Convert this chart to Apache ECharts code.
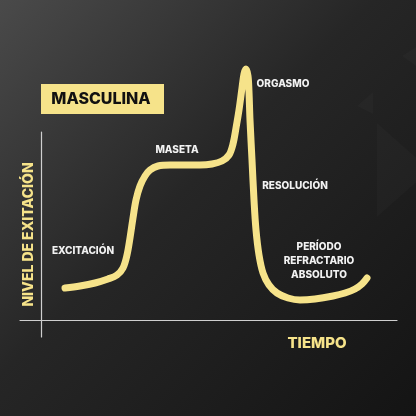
<!DOCTYPE html>
<html>
<head>
<meta charset="utf-8">
<script src="https://cdn.jsdelivr.net/npm/echarts@6/dist/echarts.min.js"></script>
<style>
  html, body { margin: 0; padding: 0; }
  #chart { width: 416px; height: 416px; }
</style>
</head>
<body>
<div id="chart"></div>
<script>
// time (arbitrary units) and arousal level
const tiempo = [24, 39, 54, 67, 76, 82, 86, 89, 92, 95, 99, 104, 109, 117, 129, 144, 159, 171, 181, 188, 192, 195, 198, 201, 203, 205, 207, 208, 209, 211, 213, 215, 218, 222, 228, 236, 247, 259, 274, 292, 304, 314, 321, 326];
const excitacion = [32, 34, 37, 41, 45, 52, 65, 82, 102, 120, 134, 144, 150, 154, 155, 155, 155, 156, 159, 165, 176, 192, 210, 232, 246, 251, 244, 228, 200, 160, 120, 90, 65, 47, 35, 27, 22, 20, 21, 24, 27, 31, 36, 42];

const titulo = 'MASCULINA';
const ejeY = 'NIVEL DE EXITACIÓN';
const ejeX = 'TIEMPO';

const YELLOW = '#f6e38a';
const FONT = '"Inter", "DejaVu Sans", sans-serif';

const chart = echarts.init(document.getElementById('chart'));

function label(text, x, y) {
  return {
    type: 'text', x: x, y: y, z: 10,
    style: { text: text, fill: '#f2f2f2', font: '800 10px ' + FONT, align: 'center', verticalAlign: 'middle' }
  };
}

function tri(points, color) {
  return { type: 'polygon', z: 0, shape: { points: points }, style: { fill: color } };
}

chart.setOption({
  backgroundColor: {
    type: 'linear', x: 0, y: 0, x2: 1, y2: 1,
    colorStops: [
      { offset: 0, color: '#4a4a4a' },
      { offset: 0.45, color: '#262626' },
      { offset: 1, color: '#141414' }
    ]
  },
  animation: false,
  grid: [
    { left: 41, right: 19, top: 20, bottom: 96 },
    { left: 20, right: 19, top: 132, bottom: 96 },
    { left: 41, width: 20, top: 132, bottom: 79 }
  ],
  xAxis: [
    { gridIndex: 0, type: 'value', min: 0, max: 356, show: false },
    {
      gridIndex: 1, type: 'value', min: 0, max: 1,
      axisLine: { show: true, lineStyle: { color: '#cfcfcf', width: 1.2 } },
      axisTick: { show: false }, axisLabel: { show: false }, splitLine: { show: false }
    },
    { gridIndex: 2, type: 'value', min: 0, max: 1, show: false }
  ],
  yAxis: [
    { gridIndex: 0, type: 'value', min: 0, max: 300, show: false },
    { gridIndex: 1, type: 'value', min: 0, max: 1, show: false },
    {
      gridIndex: 2, type: 'value', min: 0, max: 1,
      axisLine: { show: true, lineStyle: { color: '#cfcfcf', width: 1.2 } },
      axisTick: { show: false }, axisLabel: { show: false }, splitLine: { show: false },
      name: ejeY, nameLocation: 'middle', nameRotate: 90, nameGap: 5,
      nameTextStyle: { color: YELLOW, fontFamily: FONT, fontWeight: 800, fontSize: 14 }
    }
  ],
  series: [{
    type: 'line',
    xAxisIndex: 0, yAxisIndex: 0,
    data: tiempo.map((t, i) => [t, excitacion[i]]),
    smooth: 0.35,
    symbol: 'none',
    lineStyle: { color: YELLOW, width: 7, cap: 'round', join: 'round' },
    z: 5
  }],
  graphic: [
    tri([[402, 56], [416, 47], [416, 66]], 'rgba(255,255,255,0.02)'),
    tri([[357, 106], [373, 92], [373, 114]], 'rgba(255,255,255,0.02)'),
    tri([[377, 123], [377, 217], [430, 170]], 'rgba(255,255,255,0.02)'),
    { type: 'rect', z: 10, shape: { x: 41, y: 84, width: 123, height: 30 }, style: { fill: YELLOW } },
    {
      type: 'text', x: 101, y: 99.5, z: 11,
      style: { text: titulo, fill: '#111', font: '800 16px ' + FONT, align: 'center', verticalAlign: 'middle' }
    },
    label('EXCITACIÓN', 83, 251),
    label('MASETA', 177, 150),
    label('ORGASMO', 283, 84),
    label('RESOLUCIÓN', 295, 186),
    label('PERÍODO', 319, 247),
    label('REFRACTARIO', 319, 261),
    label('ABSOLUTO', 319, 275),
    {
      type: 'text', x: 317, y: 343, z: 10,
      style: { text: ejeX, fill: YELLOW, font: '800 15px ' + FONT, align: 'center', verticalAlign: 'middle' }
    }
  ]
});
</script>
</body>
</html>
